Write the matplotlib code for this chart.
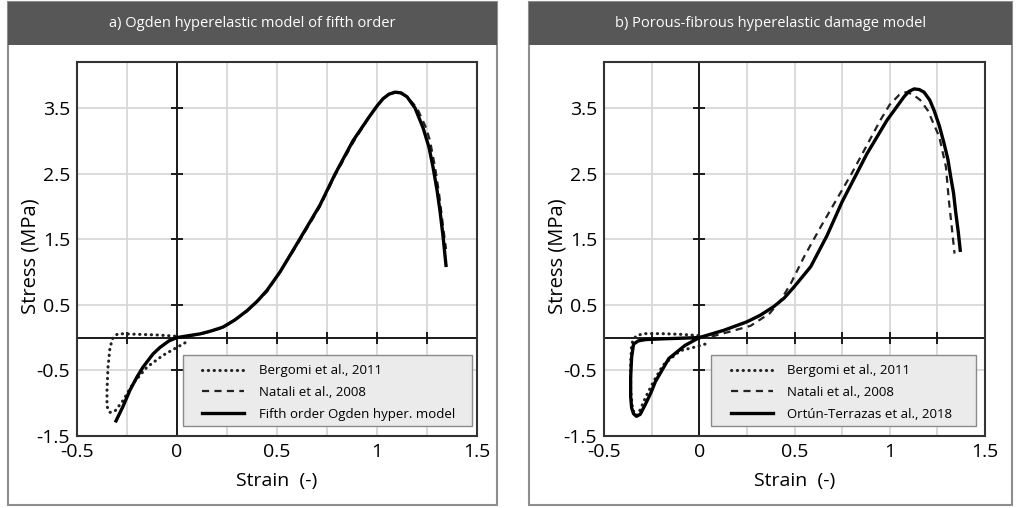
import matplotlib
matplotlib.use("Agg")
import matplotlib.pyplot as plt
from matplotlib.patches import Rectangle

plt.rcParams["font.family"] = ["Open Sans", "DejaVu Sans"]
plt.rcParams["axes.unicode_minus"] = False

# ---- data ----
x_ticks = [-0.5, 0, 0.5, 1, 1.5]
x_tick_labels = ["-0.5", "0", "0.5", "1", "1.5"]
y_ticks = [-1.5, -0.5, 0.5, 1.5, 2.5, 3.5]
y_tick_labels = ["-1.5", "-0.5", "0.5", "1.5", "2.5", "3.5"]
x_grid = [-0.25, 0, 0.25, 0.5, 0.75, 1.0, 1.25]
y_grid = [-0.5, 0.5, 1.5, 2.5, 3.5]
axis_ticks_x = [-0.25, 0.25, 0.5, 0.75, 1.0, 1.25]
axis_ticks_y = [-0.5, 0.5, 1.5, 2.5, 3.5]

# panel a
bergomi_a_x = [0.04, -0.07, -0.15, -0.22, -0.27, -0.31, -0.335, -0.35, -0.35,
               -0.345, -0.335, -0.32, -0.295, -0.2, -0.1, 0.0]
bergomi_a_y = [-0.08, -0.27, -0.45, -0.7, -0.96, -1.12, -1.14, -1.05, -0.8,
               -0.45, -0.15, 0.0, 0.06, 0.05, 0.04, 0.02]
natali_a_x = [0.0, 0.115, 0.23, 0.35, 0.45, 0.515, 0.6, 0.715, 0.79, 0.88,
              0.96, 1.03, 1.06, 1.09, 1.12, 1.15, 1.2, 1.245, 1.265, 1.29,
              1.31, 1.33, 1.345]
natali_a_y = [0.0, 0.05, 0.15, 0.4, 0.7, 1.0, 1.41, 2.0, 2.47, 2.97,
              3.36, 3.64, 3.71, 3.73, 3.72, 3.67, 3.5, 3.2, 3.0, 2.6,
              2.2, 1.7, 1.35]
ogden_x = [-0.305, -0.27, -0.235, -0.2, -0.17, -0.12, -0.085, -0.04, 0.0,
           0.06, 0.115, 0.17, 0.23, 0.29, 0.35, 0.4, 0.45, 0.515, 0.6, 0.715,
           0.79, 0.88, 0.96, 1.0, 1.03, 1.06, 1.09, 1.12, 1.15, 1.19, 1.23,
           1.26, 1.28, 1.3, 1.315, 1.33, 1.345]
ogden_y = [-1.27, -1.05, -0.8, -0.6, -0.45, -0.25, -0.15, -0.05, 0.0,
           0.03, 0.056, 0.1, 0.16, 0.27, 0.41, 0.55, 0.72, 1.0, 1.43, 2.02,
           2.49, 3.0, 3.36, 3.53, 3.64, 3.71, 3.74, 3.73, 3.67, 3.5, 3.2,
           2.9, 2.6, 2.25, 1.93, 1.55, 1.1]

# panel b
bergomi_b_x = [0.03, -0.03, -0.1, -0.19, -0.24, -0.28, -0.31, -0.33, -0.35,
               -0.36, -0.36, -0.355, -0.345, -0.33, -0.29, -0.2, -0.1, 0.0]
bergomi_b_y = [-0.1, -0.15, -0.2, -0.42, -0.67, -0.9, -1.1, -1.19, -1.1,
               -0.8, -0.4, -0.1, -0.03, 0.03, 0.06, 0.06, 0.05, 0.03]
natali_b_x = [0.0, 0.058, 0.16, 0.27, 0.37, 0.43, 0.48, 0.55, 0.64, 0.72, 0.8,
              0.865, 0.95, 1.0, 1.05, 1.085, 1.12, 1.16, 1.2, 1.26, 1.295,
              1.31, 1.325, 1.34]
natali_b_y = [0.0, 0.01, 0.09, 0.18, 0.37, 0.58, 0.82, 1.23, 1.7, 2.1, 2.5,
              2.85, 3.31, 3.55, 3.7, 3.74, 3.71, 3.62, 3.46, 3.06, 2.6,
              2.1, 1.7, 1.28]
ortun_x = [0.0, -0.1, -0.2, -0.28, -0.32, -0.345, -0.355, -0.36, -0.36,
           -0.355, -0.345, -0.33, -0.31, -0.285, -0.255, -0.23, -0.16,
           -0.075, 0.0, 0.128, 0.25, 0.32, 0.39, 0.445, 0.497, 0.585, 0.67,
           0.75, 0.88, 0.985, 1.04, 1.075, 1.1, 1.128, 1.155, 1.18, 1.21,
           1.233, 1.26, 1.285, 1.305, 1.32, 1.335, 1.345, 1.36, 1.37]
ortun_y = [0.0, -0.01, -0.02, -0.03, -0.05, -0.1, -0.3, -0.6, -0.9,
           -1.07, -1.16, -1.2, -1.17, -1.03, -0.85, -0.67, -0.32,
           -0.12, 0.0, 0.11, 0.24, 0.34, 0.47, 0.6, 0.77, 1.08, 1.55,
           2.07, 2.8, 3.31, 3.53, 3.67, 3.75, 3.79, 3.78, 3.74, 3.62,
           3.46, 3.23, 2.96, 2.72, 2.45, 2.2, 1.94, 1.6, 1.33]

W, H = 1016, 508


def fig_rect(x0, y0, x1, y1):
    # pixel box (top-left origin) -> figure fraction
    return [x0 / W, 1 - y1 / H, (x1 - x0) / W, (y1 - y0) / H]


def draw_panel(fig, frame, ax_box, title, curves, legend_box, legend_x):
    fx0, fy0, fx1, fy1 = frame
    l, b, w, h = fig_rect(fx0, fy0, fx1, fy1)
    fig.add_artist(Rectangle((l, b), w, h, transform=fig.transFigure,
                             fill=False, edgecolor="#8e8e8e", lw=1.5))
    l, b, w, h = fig_rect(fx0, fy0, fx1, 45)
    fig.add_artist(Rectangle((l, b), w, h, transform=fig.transFigure,
                             facecolor="#575757", edgecolor="none"))
    fig.text(l + w / 2, b + h / 2, title, color="white", fontsize=10.5,
             ha="center", va="center")

    ax = fig.add_axes(fig_rect(*ax_box))
    ax.set_xlim(-0.5, 1.5)
    ax.set_ylim(-1.5, 4.2)
    for xg in x_grid:
        ax.axvline(xg, color="#d8d8d8", lw=1.3, zorder=0)
    for yg in y_grid:
        ax.axhline(yg, color="#d8d8d8", lw=1.3, zorder=0)
    ax.axhline(0, color="#1a1a1a", lw=1.4, zorder=1)
    ax.axvline(0, color="#1a1a1a", lw=1.4, zorder=1)
    ax.plot(axis_ticks_x, [0] * len(axis_ticks_x), ls="none", marker="|",
            ms=8, mew=1.4, color="#1a1a1a", zorder=1)
    ax.plot([0] * len(axis_ticks_y), axis_ticks_y, ls="none", marker="_",
            ms=8, mew=1.4, color="#1a1a1a", zorder=1)

    handles = []
    for xs, ys, style, lw, label in curves:
        if style == ":":
            ln, = ax.plot(xs, ys, color="#222222", lw=lw, ls=(0, (0.1, 1.8)),
                          dash_capstyle="round", label=label, zorder=3)
        elif style == "--":
            ln, = ax.plot(xs, ys, color="#222222", lw=lw, ls=(0, (3.2, 2.4)),
                          label=label, zorder=3)
        else:
            ln, = ax.plot(xs, ys, color="black", lw=lw, label=label, zorder=4,
                          solid_joinstyle="round")
        handles.append(ln)

    ax.set_xticks(x_ticks)
    ax.set_xticklabels(x_tick_labels)
    ax.set_yticks(y_ticks)
    ax.set_yticklabels(y_tick_labels)
    ax.tick_params(length=0, labelsize=14, pad=5)
    ax.set_xlabel("Strain  (-)", fontsize=14, labelpad=8)
    ax.set_ylabel("Stress (MPa)", fontsize=14.5, labelpad=-3)
    ax.yaxis.label.set_y(0.481)
    for sp in ax.spines.values():
        sp.set_color("#333333")
        sp.set_linewidth(1.5)

    # legend box drawn as a patch, entries placed inside without a frame
    ax.add_patch(Rectangle(legend_box[:2], legend_box[2], legend_box[3],
                           transform=ax.transAxes, facecolor="#ebebeb",
                           edgecolor="#8a8a8a", lw=1.0, zorder=5))
    leg = ax.legend(handles=handles, loc="upper left",
                    bbox_to_anchor=(legend_x, 0.192), fontsize=9.5,
                    handlelength=3.2, handletextpad=1.1, labelspacing=0.66,
                    borderpad=0, borderaxespad=0, frameon=False)
    leg.set_zorder(6)
    return ax


fig = plt.figure(figsize=(W / 100, H / 100), dpi=100)

draw_panel(fig, (8, 2, 497, 505), (77, 62, 477, 436),
           "a) Ogden hyperelastic model of fifth order",
           [(bergomi_a_x, bergomi_a_y, ":", 2.2, "Bergomi et al., 2011"),
            (natali_a_x, natali_a_y, "--", 1.6, "Natali et al., 2008"),
            (ogden_x, ogden_y, "-", 2.4, "Fifth order Ogden hyper. model")],
           (0.265, 0.027, 0.7225, 0.19), 0.3125)

draw_panel(fig, (529, 2, 1012, 505), (604, 62, 985, 436),
           "b) Porous-fibrous hyperelastic damage model",
           [(bergomi_b_x, bergomi_b_y, ":", 2.2, "Bergomi et al., 2011"),
            (natali_b_x, natali_b_y, "--", 1.6, "Natali et al., 2008"),
            (ortun_x, ortun_y, "-", 2.4, "Ortún-Terrazas et al., 2018")],
           (0.281, 0.027, 0.6955, 0.19), 0.3325)

fig.savefig("out.png", dpi=100)
